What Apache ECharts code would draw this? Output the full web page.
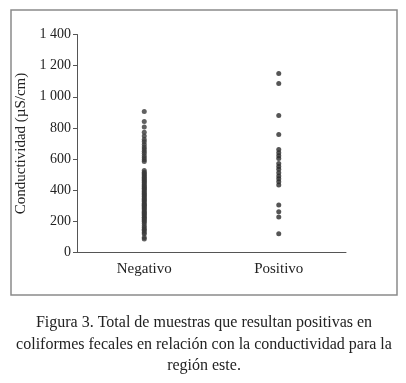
<!DOCTYPE html>
<html>
<head>
<meta charset="utf-8">
<script src="https://cdn.jsdelivr.net/npm/echarts@6/dist/echarts.min.js"></script>
<style>
  html, body { margin: 0; padding: 0; background: #fff; }
  #chart { width: 406px; height: 383px; }
</style>
</head>
<body>
<div id="chart"></div>
<script>
const categories = ['Negativo', 'Positivo']
const yTicks = [0, 200, 400, 600, 800, 1000, 1200, 1400]

// conductividad de las muestras negativas (µS/cm)
const negativo = [
  905, 842, 806, 772, 748, 726, 712, 694, 678, 664, 651, 638, 622, 609, 596, 584,
  527, 516, 507, 499, 491, 484, 476, 467, 461, 453, 446, 437, 429, 423, 414, 409,
  401, 393, 384, 377, 371, 363, 356, 347, 341, 333, 326, 317, 309, 303, 296, 287,
  281, 273, 264, 257, 251, 243, 236, 227, 221, 213, 204, 197,
  186, 172, 161, 149, 141, 128, 119, 96, 86
]
// conductividad de las muestras positivas (µS/cm)
const positivo = [
  1150, 1085, 880, 758, 662, 641, 622, 604, 572, 553, 534, 512, 492, 474, 455, 433,
  305, 262, 228, 120
]

const captionLines = [
  'Figura 3. Total de muestras que resultan positivas en',
  'coliformes fecales en relación con la conductividad para la',
  'región este.'
]

const serif = '"Liberation Serif", "Times New Roman", serif'

const chart = echarts.init(document.getElementById('chart'))
chart.setOption({
  animation: false,
  graphic: [
    {
      type: 'rect',
      shape: { x: 11, y: 10, width: 386, height: 285 },
      style: { fill: 'none', stroke: '#8a8a8a', lineWidth: 1.5 }
    }
  ].concat(captionLines.map((t, i) => ({
    type: 'text',
    x: 204,
    y: 323 + i * 21.5,
    style: {
      text: t,
      fontFamily: serif,
      fontSize: 16,
      fill: '#222',
      align: 'center',
      verticalAlign: 'middle'
    }
  }))),
  grid: { left: 77, right: 60, top: 34.5, bottom: 130.5 },
  xAxis: {
    type: 'category',
    data: categories,
    boundaryGap: true,
    axisLine: { lineStyle: { color: '#555', width: 1 } },
    axisTick: { length: 5, lineStyle: { color: '#555' } },
    axisLabel: { fontFamily: serif, fontSize: 15, color: '#222', margin: 9 }
  },
  yAxis: {
    type: 'value',
    min: 0,
    max: 1400,
    interval: 200,
    name: 'Conductividad (µS/cm)',
    nameLocation: 'middle',
    nameRotate: 90,
    nameGap: 45,
    nameTextStyle: { fontFamily: serif, fontSize: 15, color: '#222' },
    axisLine: { show: true, lineStyle: { color: '#555', width: 1 } },
    axisTick: { show: true, length: 4, lineStyle: { color: '#555' } },
    splitLine: { show: false },
    axisLabel: {
      fontFamily: serif,
      fontSize: 14,
      color: '#222',
      margin: 6,
      formatter: function (v) {
        return yTicks.indexOf(v) < 0 ? '' : String(v).replace(/\B(?=(\d{3})+(?!\d))/g, ' ')
      }
    }
  },
  series: [
    {
      type: 'scatter',
      symbol: 'circle',
      symbolSize: 5,
      itemStyle: { color: '#3a3a3a' },
      data: negativo.map(v => [categories[0], v])
    },
    {
      type: 'scatter',
      symbol: 'circle',
      symbolSize: 5,
      itemStyle: { color: '#2a2a2a' },
      data: positivo.map(v => [categories[1], v])
    }
  ]
})
</script>
</body>
</html>
